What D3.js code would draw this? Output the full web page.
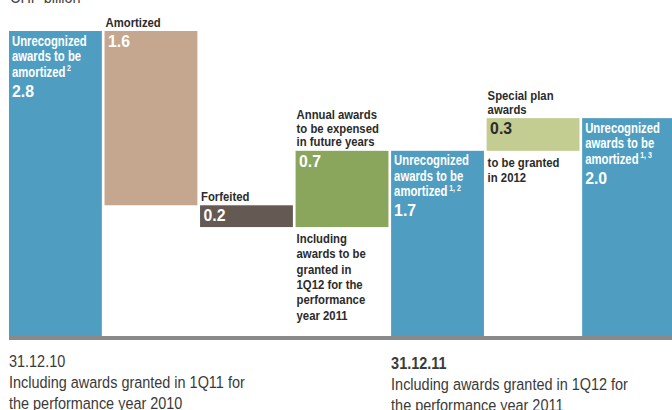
<!DOCTYPE html>
<html>
<head>
<meta charset="utf-8">
<script src="https://cdn.jsdelivr.net/npm/d3@7"></script>
<style>
  html, body { margin: 0; padding: 0; background: #fff; }
  svg { display: block; }
  text { font-family: "Liberation Sans", Arial, sans-serif; }
</style>
</head>
<body>
<svg id="chart" width="672" height="410"></svg>
<script>
// Waterfall of unrecognized compensation awards (CHF billion)
const categories = ["open2010", "amortized", "forfeited", "annual", "open2011", "special", "open2012"];
const values = [2.8, -1.6, -0.2, 0.7, 1.7, 0.3, 2.0];
const isTotal = [true, false, false, false, true, false, true];

const headLabels = [null, ["Amortized"], ["Forfeited"], ["Annual awards", "to be expensed", "in future years"], null, ["Special plan", "awards"], null];
const totalLabel = ["Unrecognized", "awards to be", "amortized"];
const footnotes = ["2", null, null, null, "1, 2", null, "1, 3"];
const belowNotes = [null, null, null,
  ["Including", "awards to be", "granted in", "1Q12 for the", "performance", "year 2011"],
  null, ["to be granted", "in 2012"], null];
const dateLabels = [
  { at: "open2010", bold: false, lines: ["31.12.10", "Including awards granted in 1Q11 for", "the performance year 2010"] },
  { at: "open2011", bold: true, lines: ["31.12.11", "Including awards granted in 1Q12 for", "the performance year 2011"] }
];
const unitLabel = "CHF billion";

const fills = {
  open2010: "#4f9ec1", amortized: "#c4a78e", forfeited: "#645a53", annual: "#8aa65c",
  open2011: "#4f9ec1", special: "#c3cc91", open2012: "#4f9ec1"
};
const valueInk = { special: "#2b2b2b" };
const ink = "#2b2b2b";
const NARROW = 0.82;   // horizontal squeeze giving a condensed face

// running start / end for each step
let run = 0;
const steps = categories.map((c, i) => {
  let y0, y1;
  if (isTotal[i]) { y0 = 0; y1 = values[i]; run = values[i]; }
  else { y0 = run; y1 = run + values[i]; run = y1; }
  return { c, i, v: values[i], lo: Math.min(y0, y1), hi: Math.max(y0, y1) };
});

const svg = d3.select("#chart");
const x = d3.scaleBand().domain(categories).range([9, 675]).paddingInner(0.028).paddingOuter(0);
const y = d3.scaleLinear().domain([0, d3.max(steps, d => d.hi)]).range([336, 31]);
const fmt = d3.format(".1f");

function label(px, py, str, o) {
  return svg.append("text")
    .attr("transform", `translate(${px},${py}) scale(${o.sx || NARROW},1)`)
    .attr("font-size", o.size)
    .attr("font-weight", o.weight || "normal")
    .attr("fill", o.fill || ink)
    .text(str);
}

// unit caption
label(10, 3, unitLabel, { size: 17, sx: 0.85, fill: "#444" });

// bars
svg.selectAll("rect.bar").data(steps).join("rect")
  .attr("class", "bar")
  .attr("x", d => x(d.c))
  .attr("y", d => y(d.hi))
  .attr("width", x.bandwidth())
  .attr("height", d => y(d.lo) - y(d.hi))
  .attr("fill", d => fills[d.c]);

// baseline rule
svg.append("rect")
  .attr("x", x.range()[0]).attr("y", y(0))
  .attr("width", 672 - x.range()[0]).attr("height", 4)
  .attr("fill", "#8a8a8a");

// labels inside total bars
steps.filter(d => isTotal[d.i]).forEach(d => {
  const x0 = x(d.c) + 3, top = y(d.hi);
  totalLabel.forEach((line, k) => {
    const t = label(x0, top + 14.5 + k * 15.5, line, { size: 13.8, weight: "bold", fill: "#fff" });
    if (k === totalLabel.length - 1 && footnotes[d.i]) {
      t.append("tspan").attr("dx", 2).attr("dy", -5.5).attr("font-size", 8.5).text(footnotes[d.i]);
    }
  });
  label(x0, top + 65.5, fmt(d.v), { size: 17, sx: 0.93, weight: "bold", fill: "#fff" });
});

// labels for step bars
steps.filter(d => !isTotal[d.i]).forEach(d => {
  const x0 = x(d.c), top = y(d.hi), bottom = y(d.lo);
  const head = headLabels[d.i];
  if (head) {
    const lh = head.length > 1 ? 13.5 : 0;
    head.forEach((line, k) => {
      label(x0 + 1, top - 4.5 - (head.length - 1 - k) * lh, line, { size: 13, sx: 0.87, weight: "bold" });
    });
  }
  label(x0 + 3.5, top + 16, fmt(Math.abs(d.v)), {
    size: 17, sx: 0.93, weight: "bold", fill: valueInk[d.c] || "#fff"
  });
  const note = belowNotes[d.i];
  if (note) {
    const first = d.v > 0 ? bottom : top;
    note.forEach((line, k) => {
      label(x0 + 1, first + 16 + k * 15.3, line, { size: 13.5, sx: 0.84, weight: "bold" });
    });
  }
});

// period captions under the baseline
dateLabels.forEach((dl, j) => {
  const x0 = x(dl.at), off = j * 2;
  dl.lines.forEach((line, k) => {
    label(x0, 367 + off + k * 21, line, {
      size: 17, sx: 0.85, weight: k === 0 && dl.bold ? "bold" : "normal", fill: "#3a3a3a"
    });
  });
});
</script>
</body>
</html>
